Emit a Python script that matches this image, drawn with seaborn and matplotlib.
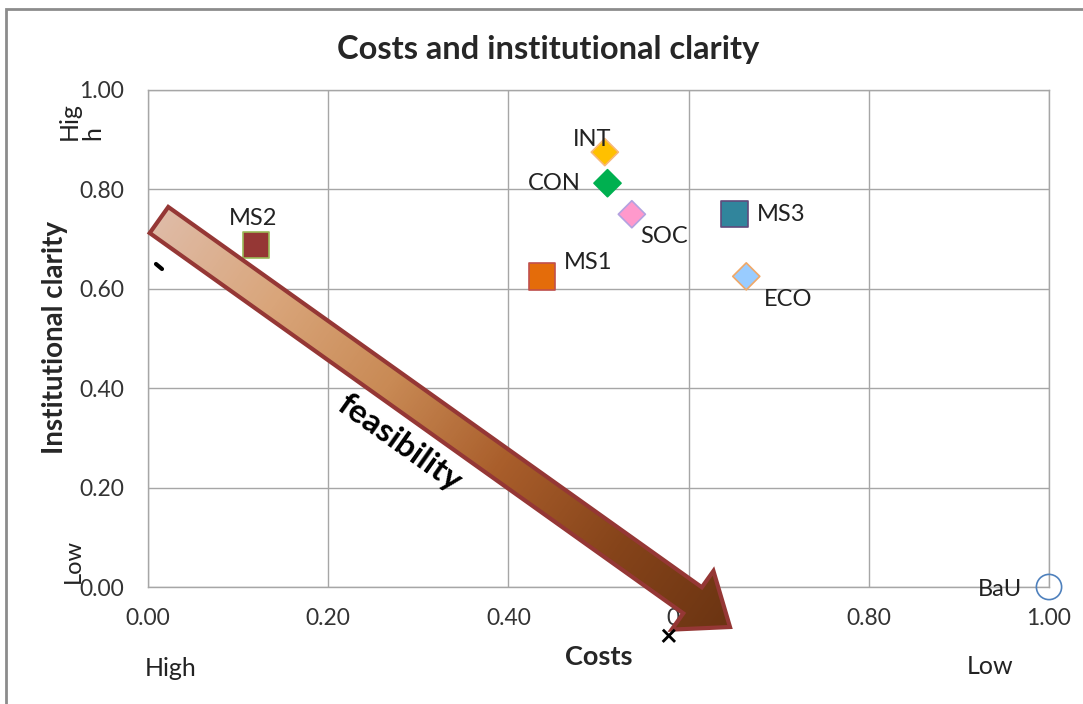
import numpy as np
import pandas as pd
import seaborn as sns
import matplotlib.pyplot as plt
from matplotlib.patches import Polygon, Rectangle
from matplotlib.colors import LinearSegmentedColormap

# scenario positions
labels = ["INT", "CON", "SOC", "MS3", "MS1", "ECO", "MS2", "BaU"]
costs = [0.507, 0.510, 0.537, 0.651, 0.437, 0.664, 0.120, 1.000]
clarity = [0.875, 0.8125, 0.750, 0.750, 0.625, 0.625, 0.6875, 0.000]
ticks = [0.0, 0.2, 0.4, 0.6, 0.8, 1.0]

fills = {"INT": "#FFC000", "CON": "#00B050", "SOC": "#FF99CC", "MS3": "#31859C",
         "MS1": "#E46C0A", "ECO": "#99CCFF", "MS2": "#953735", "BaU": "none"}
edges = {"INT": "#F8B878", "CON": "#00B050", "SOC": "#B3A2E0", "MS3": "#604A7B",
         "MS1": "#C0504D", "ECO": "#F0A868", "MS2": "#9BBB59", "BaU": "#4F81BD"}
shapes = {"INT": "D", "CON": "D", "SOC": "D", "ECO": "D",
          "MS1": "s", "MS2": "s", "MS3": "s", "BaU": "o"}
areas = {"INT": 190, "CON": 190, "SOC": 190, "ECO": 190,
         "MS1": 360, "MS2": 360, "MS3": 360, "BaU": 330}
# label offsets in points: (dx, dy, ha)
offsets = {"INT": (-9, 9, "center"), "CON": (-19, 0, "right"), "SOC": (6, -16, "left"),
           "MS3": (16, 0, "left"), "MS1": (16, 10, "left"), "ECO": (13, -17, "left"),
           "MS2": (-2, 19, "center"), "BaU": (-19, -2, "right")}

df = pd.DataFrame({"label": labels, "costs": costs, "clarity": clarity})

sns.set_style("white")
plt.rcParams["font.family"] = ["Lato", "DejaVu Sans"]

W, H = 1083, 704
fig = plt.figure(figsize=(W / 100, H / 100), dpi=100)
ax = fig.add_axes([148 / W, 1 - 587 / H, 901 / W, 497 / H])

palette = {k: ("white" if v == "none" else v) for k, v in fills.items()}
sns.scatterplot(data=df, x="costs", y="clarity", hue="label", palette=palette,
                style="label", markers=shapes, size="label", sizes=areas,
                legend=False, ax=ax, zorder=3)
coll = ax.collections[0]
coll.set_facecolors([(0, 0, 0, 0) if fills[l] == "none" else fills[l] for l in df["label"]])
coll.set_edgecolors([edges[l] for l in df["label"]])
coll.set_linewidths(1.2)
coll.set_clip_on(False)

for lab, x, y in zip(labels, costs, clarity):
    dx, dy, ha = offsets[lab]
    ax.annotate(lab, (x, y), xytext=(dx, dy), textcoords="offset points",
                ha=ha, va="center", fontsize=17, color="#222222")

ax.set_xlim(0, 1)
ax.set_ylim(0, 1)
ax.set_xticks(ticks)
ax.set_yticks(ticks)
ax.set_xticklabels([f"{t:.2f}" for t in ticks])
ax.set_yticklabels([f"{t:.2f}" for t in ticks])
ax.tick_params(axis="both", length=6, color="#9a9a9a", labelsize=16.5, labelcolor="#333333", pad=9)
ax.tick_params(axis="y", pad=11)
ax.grid(True, color="#a6a6a6", linewidth=1)
for s in ax.spines.values():
    s.set_color("#a6a6a6")
    s.set_linewidth(1)
ax.set_xlabel("")
ax.set_ylabel("")


def px(x, y):
    return x / W, 1 - y / H


fig.text(*px(548, 49), "Costs and institutional clarity", ha="center", va="center",
         fontsize=23.5, fontweight="bold")
fig.text(*px(55, 338), "Institutional clarity", ha="center", va="center",
         rotation=90, fontsize=20, fontweight="bold")
fig.text(*px(599, 657), "Costs", ha="center", va="center", fontsize=19.5, fontweight="bold")
fig.text(*px(171, 668), "High", ha="center", va="center", fontsize=18, color="#222222")
fig.text(*px(990, 667), "Low", ha="center", va="center", fontsize=18, color="#222222")
fig.text(*px(81, 121), "Hig\nh", ha="center", va="center", rotation=90,
         multialignment="left", fontsize=18, color="#222222", linespacing=1.0)
fig.text(*px(73, 561), "Low", ha="center", va="center", rotation=90, fontsize=17, color="#222222")

# outer chart frame
fig.add_artist(Rectangle(px(6, H + 20), (W + 20) / W, (H + 20 - 9) / H,
                         transform=fig.transFigure, fill=False, edgecolor="#8c8c8c", linewidth=2))

# feasibility arrow drawn on an overlay in pixel coordinates
ov = fig.add_axes([0, 0, 1, 1], zorder=5)
ov.set_xlim(0, W)
ov.set_ylim(H, 0)
ov.axis("off")
ov.patch.set_alpha(0)

T = np.array([159.0, 220.0])
P = np.array([730.0, 627.0])
d = (P - T) / np.linalg.norm(P - T)
n = np.array([-d[1], d[0]])
hw, head_w, head_l = 16, 36, 46
B = P - head_l * d
verts = [T + hw * n, B + hw * n, B + head_w * n, P, B - head_w * n, B - hw * n, T - hw * n]
arrow = Polygon(verts, closed=True, facecolor="none", edgecolor="#953735", linewidth=3, zorder=3)
ov.add_patch(arrow)

gx, gy = np.meshgrid(np.arange(120, 780), np.arange(180, 680))
t = ((gx - T[0]) * d[0] + (gy - T[1]) * d[1]) / np.linalg.norm(P - T)
cmap = LinearSegmentedColormap.from_list(
    "feas", ["#dfbba6", "#d9a57a", "#c98a55", "#a95e2b", "#86441a", "#6b3412"])
clip = Polygon(verts, closed=True, transform=ov.transData)
img = ov.imshow(np.clip(t, 0, 1), cmap=cmap, extent=(120, 780, 680, 180),
                aspect="auto", zorder=2, interpolation="bilinear")
img.set_clip_path(clip)
ov.set_xlim(0, W)
ov.set_ylim(H, 0)

ov.text(400, 443, "feasibility", rotation=-35.4, rotation_mode="anchor",
        ha="center", va="center", fontsize=24, fontweight="bold", color="black")
# stray marks left over in the original chart
ov.plot([156, 162], [264, 269], color="black", linewidth=3, solid_capstyle="round")
ov.text(668, 637, "×", ha="center", va="center", fontsize=22, fontweight="bold", color="black")
ov.set_xlim(0, W)
ov.set_ylim(H, 0)

fig.savefig("out.png", dpi=100)
